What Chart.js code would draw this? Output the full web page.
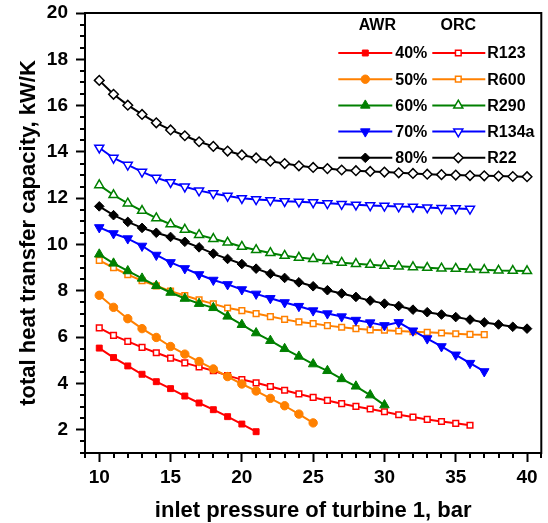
<!DOCTYPE html>
<html>
<head>
<meta charset="utf-8">
<script src="https://cdn.jsdelivr.net/npm/chart.js@4.4.0/dist/chart.umd.min.js"></script>
<style>
    html, body { margin: 0; padding: 0; background: #fff; }
    #wrap { width: 548px; height: 523px; position: relative; }
</style>
</head>
<body>
<div id="wrap"><canvas id="capacityChart"></canvas></div>
<script>
// inlet pressure of turbine 1, bar
const pressure = [10, 11, 12, 13, 14, 15, 16, 17, 18, 19, 20, 21, 22, 23, 24, 25,
    26, 27, 28, 29, 30, 31, 32, 33, 34, 35, 36, 37, 38, 39, 40];

// AWR, total heat transfer capacity (kW/K)
const awr40 = [5.53, 5.12, 4.76, 4.40, 4.08, 3.78, 3.46, 3.16, 2.87, 2.57, 2.25, 1.92];
const awr50 = [7.81, 7.29, 6.80, 6.37, 5.99, 5.60, 5.27, 4.95, 4.63, 4.30, 3.98, 3.68,
    3.36, 3.04, 2.68, 2.30];
const awr60 = [9.58, 9.19, 8.86, 8.54, 8.22, 7.93, 7.67, 7.45, 7.27, 6.90, 6.54, 6.18,
    5.85, 5.50, 5.17, 4.84, 4.55, 4.20, 3.88, 3.50, 3.07];
const awr70 = [10.74, 10.48, 10.26, 9.94, 9.55, 9.23, 8.97, 8.71, 8.47, 8.28, 8.06, 7.87,
    7.68, 7.50, 7.34, 7.15, 7.02, 6.89, 6.74, 6.63, 6.51, 6.64, 6.28, 5.94, 5.60, 5.24,
    4.88, 4.52];
const awr80 = [11.65, 11.27, 10.98, 10.72, 10.51, 10.33, 10.12, 9.88, 9.61, 9.38, 9.16,
    8.96, 8.74, 8.56, 8.37, 8.20, 8.03, 7.89, 7.74, 7.58, 7.45, 7.35, 7.19, 7.08, 6.98,
    6.87, 6.76, 6.64, 6.55, 6.45, 6.37];

// ORC, total heat transfer capacity (kW/K)
const orcR123 = [6.40, 6.08, 5.82, 5.56, 5.33, 5.10, 4.89, 4.72, 4.55, 4.34, 4.17, 4.03,
    3.87, 3.71, 3.55, 3.40, 3.27, 3.13, 3.01, 2.90, 2.78, 2.65, 2.55, 2.45, 2.36, 2.28,
    2.20];
const orcR600 = [9.32, 9.00, 8.70, 8.44, 8.22, 7.99, 7.80, 7.61, 7.44, 7.26, 7.15, 7.02,
    6.89, 6.77, 6.66, 6.59, 6.50, 6.43, 6.37, 6.32, 6.30, 6.27, 6.24, 6.21, 6.18, 6.15,
    6.12, 6.11];
const orcR290 = [12.57, 12.14, 11.78, 11.46, 11.14, 10.88, 10.65, 10.42, 10.25, 10.09,
    9.91, 9.77, 9.64, 9.52, 9.44, 9.38, 9.29, 9.22, 9.17, 9.13, 9.09, 9.06, 9.03, 9.00,
    8.97, 8.96, 8.93, 8.91, 8.88, 8.87, 8.86];
const orcR134a = [14.18, 13.74, 13.44, 13.14, 12.88, 12.69, 12.50, 12.33, 12.21, 12.10,
    12.00, 11.95, 11.91, 11.87, 11.85, 11.82, 11.78, 11.75, 11.72, 11.69, 11.67, 11.64,
    11.63, 11.60, 11.57, 11.56, 11.54];
const orcR22 = [17.09, 16.49, 16.02, 15.62, 15.26, 14.95, 14.70, 14.44, 14.24, 14.04,
    13.87, 13.74, 13.60, 13.50, 13.40, 13.33, 13.28, 13.22, 13.19, 13.16, 13.13, 13.10,
    13.07, 13.04, 13.02, 13.00, 12.98, 12.97, 12.96, 12.94, 12.93];

const awrLabels = ['40%', '50%', '60%', '70%', '80%'];
const orcLabels = ['R123', 'R600', 'R290', 'R134a', 'R22'];

const FONT = '"Liberation Sans", Arial, sans-serif';
Chart.defaults.font.family = FONT;
Chart.defaults.color = '#000';

function series(label, values, color, style, filled, rotation, radius) {
    return {
        label: label,
        data: values.map((v, i) => ({ x: pressure[i], y: v })),
        borderColor: color,
        backgroundColor: color,
        borderWidth: 2,
        tension: 0,
        pointStyle: style,
        rotation: rotation,
        pointRadius: radius,
        pointHoverRadius: radius,
        pointBackgroundColor: filled ? color : '#fff',
        pointBorderColor: color,
        pointBorderWidth: filled ? 1 : 1.5
    };
}

const RED = '#ff0000', ORANGE = '#ff8000', GREEN = '#008000', BLUE = '#0000ff', BLACK = '#000000';

const datasets = [
    series(awrLabels[0], awr40, RED, 'rect', true, 0, 4.2),
    series(awrLabels[1], awr50, ORANGE, 'circle', true, 0, 4.2),
    series(awrLabels[2], awr60, GREEN, 'triangle', true, 0, 5.5),
    series(awrLabels[3], awr70, BLUE, 'triangle', true, 180, 5.5),
    series(awrLabels[4], awr80, BLACK, 'rectRot', true, 0, 4.8),
    series(orcLabels[0], orcR123, RED, 'rect', false, 0, 4),
    series(orcLabels[1], orcR600, ORANGE, 'rect', false, 0, 4),
    series(orcLabels[2], orcR290, GREEN, 'triangle', false, 0, 5.2),
    series(orcLabels[3], orcR134a, BLUE, 'triangle', false, 180, 5.2),
    series(orcLabels[4], orcR22, BLACK, 'rectRot', false, 0, 4.8)
];

function drawMarker(ctx, ds, x, y) {
    ctx.fillStyle = ds.pointBackgroundColor;
    ctx.strokeStyle = ds.pointBorderColor;
    ctx.lineWidth = ds.pointBorderWidth;
    Chart.helpers.drawPoint(ctx, {
        pointStyle: ds.pointStyle,
        rotation: ds.rotation,
        radius: ds.pointRadius,
        borderWidth: ds.pointBorderWidth
    }, x, y);
}

// two column legend (AWR | ORC) inside the plot, plus frame and minor ticks
const framePlugin = {
    id: 'frameAndLegend',
    afterDraw(chart) {
        const { ctx, chartArea } = chart;
        const xs = chart.scales.x, ys = chart.scales.y;
        ctx.save();

        // minor ticks
        ctx.strokeStyle = '#000';
        ctx.lineWidth = 2;
        ctx.beginPath();
        xs.ticks.forEach(t => {
            if (t.value % 5 === 0) return;
            const px = Math.round(xs.getPixelForValue(t.value));
            ctx.moveTo(px, chartArea.bottom);
            ctx.lineTo(px, chartArea.bottom + 5);
        });
        ys.ticks.forEach(t => {
            if (t.value % 2 === 0) return;
            const py = Math.round(ys.getPixelForValue(t.value));
            ctx.moveTo(chartArea.left, py);
            ctx.lineTo(chartArea.left - 5, py);
        });
        ctx.stroke();

        // frame
        ctx.lineWidth = 2;
        ctx.strokeRect(chartArea.left, chartArea.top, chartArea.right - chartArea.left,
            chartArea.bottom - chartArea.top);

        // legend
        const r = chartArea.right, top = chartArea.top;
        ctx.font = 'bold 16px ' + FONT;
        ctx.fillStyle = '#000';
        ctx.textBaseline = 'middle';
        ctx.textAlign = 'center';
        ctx.fillText('AWR', r - 164, top + 13);
        ctx.fillText('ORC', r - 83, top + 13);
        ctx.textAlign = 'left';
        const sets = chart.data.datasets;
        for (let i = 0; i < 5; i++) {
            const y = top + 40 + i * 26.2;
            [[sets[i], r - 203, r - 149, r - 176, r - 146],
             [sets[i + 5], r - 109, r - 56, r - 83, r - 54]].forEach(([ds, x0, x1, xm, xt]) => {
                ctx.strokeStyle = ds.borderColor;
                ctx.lineWidth = 2;
                ctx.beginPath();
                ctx.moveTo(x0, y);
                ctx.lineTo(x1, y);
                ctx.stroke();
                drawMarker(ctx, ds, xm, y);
                ctx.fillStyle = '#000';
                ctx.fillText(ds.label, xt, y + 1);
            });
        }
        ctx.restore();
    }
};

const ctx = document.getElementById('capacityChart').getContext('2d');
new Chart(ctx, {
    type: 'line',
    data: { datasets: datasets },
    options: {
        responsive: true,
        maintainAspectRatio: false,
        animation: false,
        layout: { padding: { top: 13, right: 2, left: 0, bottom: 0 } },
        plugins: {
            legend: { display: false },
            tooltip: { enabled: false }
        },
        scales: {
            x: {
                type: 'linear',
                min: 9,
                max: 41,
                afterFit: scale => {
                    scale.height = 70;
                    scale.paddingLeft = 0;
                    scale.paddingRight = 0;
                },
                border: { display: false },
                grid: {
                    drawOnChartArea: false,
                    drawTicks: true,
                    tickLength: 9,
                    tickWidth: 2,
                    tickColor: c => (c.tick && c.tick.value % 5 === 0) ? '#000' : 'rgba(0,0,0,0)'
                },
                ticks: {
                    stepSize: 1,
                    autoSkip: false,
                    maxTicksLimit: 100,
                    maxRotation: 0,
                    minRotation: 0,
                    padding: 4,
                    font: { size: 19, weight: 'bold' },
                    callback: v => (v % 5 === 0 ? v : '')
                },
                title: {
                    display: true,
                    text: 'inlet pressure of turbine 1, bar',
                    font: { size: 22, weight: 'bold', lineHeight: 1.1 },
                    padding: { top: 0, bottom: 0 }
                }
            },
            y: {
                min: 1,
                max: 20,
                afterFit: scale => {
                    scale.width = 85;
                    scale.paddingTop = 0;
                    scale.paddingBottom = 0;
                },
                border: { display: false },
                grid: {
                    drawOnChartArea: false,
                    drawTicks: true,
                    tickLength: 9,
                    tickWidth: 2,
                    tickColor: c => (c.tick && c.tick.value % 2 === 0) ? '#000' : 'rgba(0,0,0,0)'
                },
                ticks: {
                    stepSize: 0.5,
                    autoSkip: false,
                    maxTicksLimit: 100,
                    padding: 8,
                    font: { size: 19, weight: 'bold' },
                    callback: v => (v % 2 === 0 ? v : '')
                },
                title: {
                    display: true,
                    text: 'total heat transfer capacity, kW/K',
                    font: { size: 22, weight: 'bold' },
                    padding: { top: 16, bottom: 0 }
                }
            }
        }
    },
    plugins: [framePlugin]
});
</script>
</body>
</html>
